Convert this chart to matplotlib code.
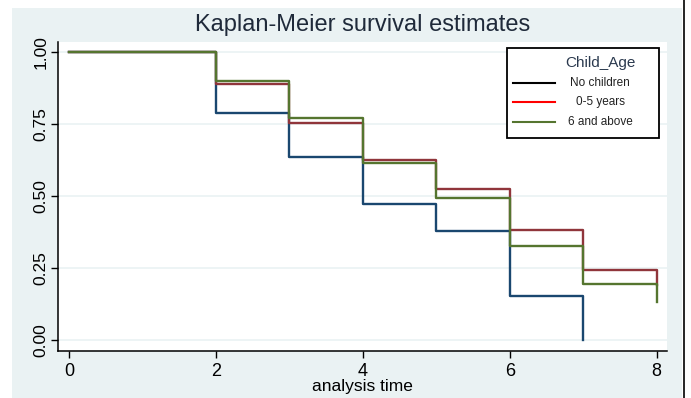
import matplotlib
matplotlib.use("Agg")
import matplotlib.pyplot as plt
from matplotlib.patches import Rectangle
from matplotlib.lines import Line2D

plt.rcParams['font.family'] = ['Liberation Sans', 'DejaVu Sans']

# Data
times_none = [0, 2, 3, 4, 5, 6, 7]
surv_none = [1.0, 0.787, 0.634, 0.472, 0.378, 0.152, 0.0]
times_young = [0, 2, 3, 4, 5, 6, 7, 8]
surv_young = [1.0, 0.888, 0.752, 0.625, 0.524, 0.381, 0.242, 0.19]
times_old = [0, 2, 3, 4, 5, 6, 7, 8]
surv_old = [1.0, 0.900, 0.770, 0.616, 0.493, 0.326, 0.194, 0.132]

series_labels = ["No children", "0-5 years", "6 and above"]
line_colors = ["#1a476f", "#90353b", "#55752f"]
legend_colors = ["black", "red", "#55752f"]
xticks = [0, 2, 4, 6, 8]
yticks = [0.00, 0.25, 0.50, 0.75, 1.00]
ytick_labels = ["0.00", "0.25", "0.50", "0.75", "1.00"]

narrow = ['Liberation Sans Narrow', 'Liberation Sans', 'DejaVu Sans']

W, H = 691, 398
fig = plt.figure(figsize=(W / 100, H / 100), dpi=100, facecolor="white")

# Outer Stata-like background
bg = Rectangle((12 / W, 0), (682 - 12) / W, (H - 8) / H, transform=fig.transFigure,
               facecolor="#EAF2F3", edgecolor="none", zorder=-5)
fig.patches.append(bg)
fig.add_artist(Line2D([683.5 / W, 683.5 / W], [0, 1], transform=fig.transFigure,
                      color="black", lw=1.2, zorder=-4))

ax = fig.add_axes([58 / W, (H - 351) / H, (667 - 58) / W, (351 - 42) / H])
ax.set_zorder(1)
ax.set_facecolor("white")

for yv in yticks:
    ax.axhline(yv, color="#EAF2F3", lw=1.2, zorder=1)

for t, s, c in zip([times_none, times_young, times_old],
                   [surv_none, surv_young, surv_old], line_colors):
    ax.step(t, s, where="post", color=c, lw=1.7, zorder=3)

ax.set_xlim(-0.15, 8.14)
ax.set_ylim(-0.038, 1.035)
ax.set_xticks(xticks)
ax.set_xticklabels([str(x) for x in xticks], fontsize=13, family=narrow)
ax.set_yticks(yticks)
ax.set_yticklabels(ytick_labels, fontsize=12.5, rotation=90, va="center")
ax.tick_params(axis="both", direction="out", length=5, width=1, colors="black")
ax.tick_params(axis="x", pad=4)
ax.tick_params(axis="y", pad=2)
for sp in ["top", "right"]:
    ax.spines[sp].set_visible(False)
for sp in ["left", "bottom"]:
    ax.spines[sp].set_linewidth(1.1)
    ax.spines[sp].set_color("black")

ax.set_xlabel("analysis time", fontsize=12.5, labelpad=-1, family=narrow)
ax.set_title("Kaplan-Meier survival estimates", fontsize=17, color="#1f2a3a", pad=8)

# Legend (Stata style box)
def px(x, y):
    return x / W, 1 - y / H

x0, y0 = px(507, 138)
x1, y1 = px(659, 48)
fig.patches.append(Rectangle((x0, y0), x1 - x0, y1 - y0, transform=fig.transFigure,
                             facecolor="white", edgecolor="black", lw=1.3, zorder=5))
tx, ty = px(600, 63)
fig.text(tx, ty, "Child_Age", fontsize=11, color="#2b3a4f", ha="center", va="center", zorder=6)
rows = [83, 102, 122]
for lab, col, ry in zip(series_labels, legend_colors, rows):
    la, yy = px(513, ry)
    lb, _ = px(555, ry)
    fig.add_artist(Line2D([la, lb], [yy, yy], transform=fig.transFigure, color=col, lw=1.5, zorder=6))
    tx, _ = px(600, ry)
    fig.text(tx, yy, lab, fontsize=8.5, color="#222222", ha="center", va="center", zorder=6)

fig.savefig("out.png", dpi=100, facecolor="white")
